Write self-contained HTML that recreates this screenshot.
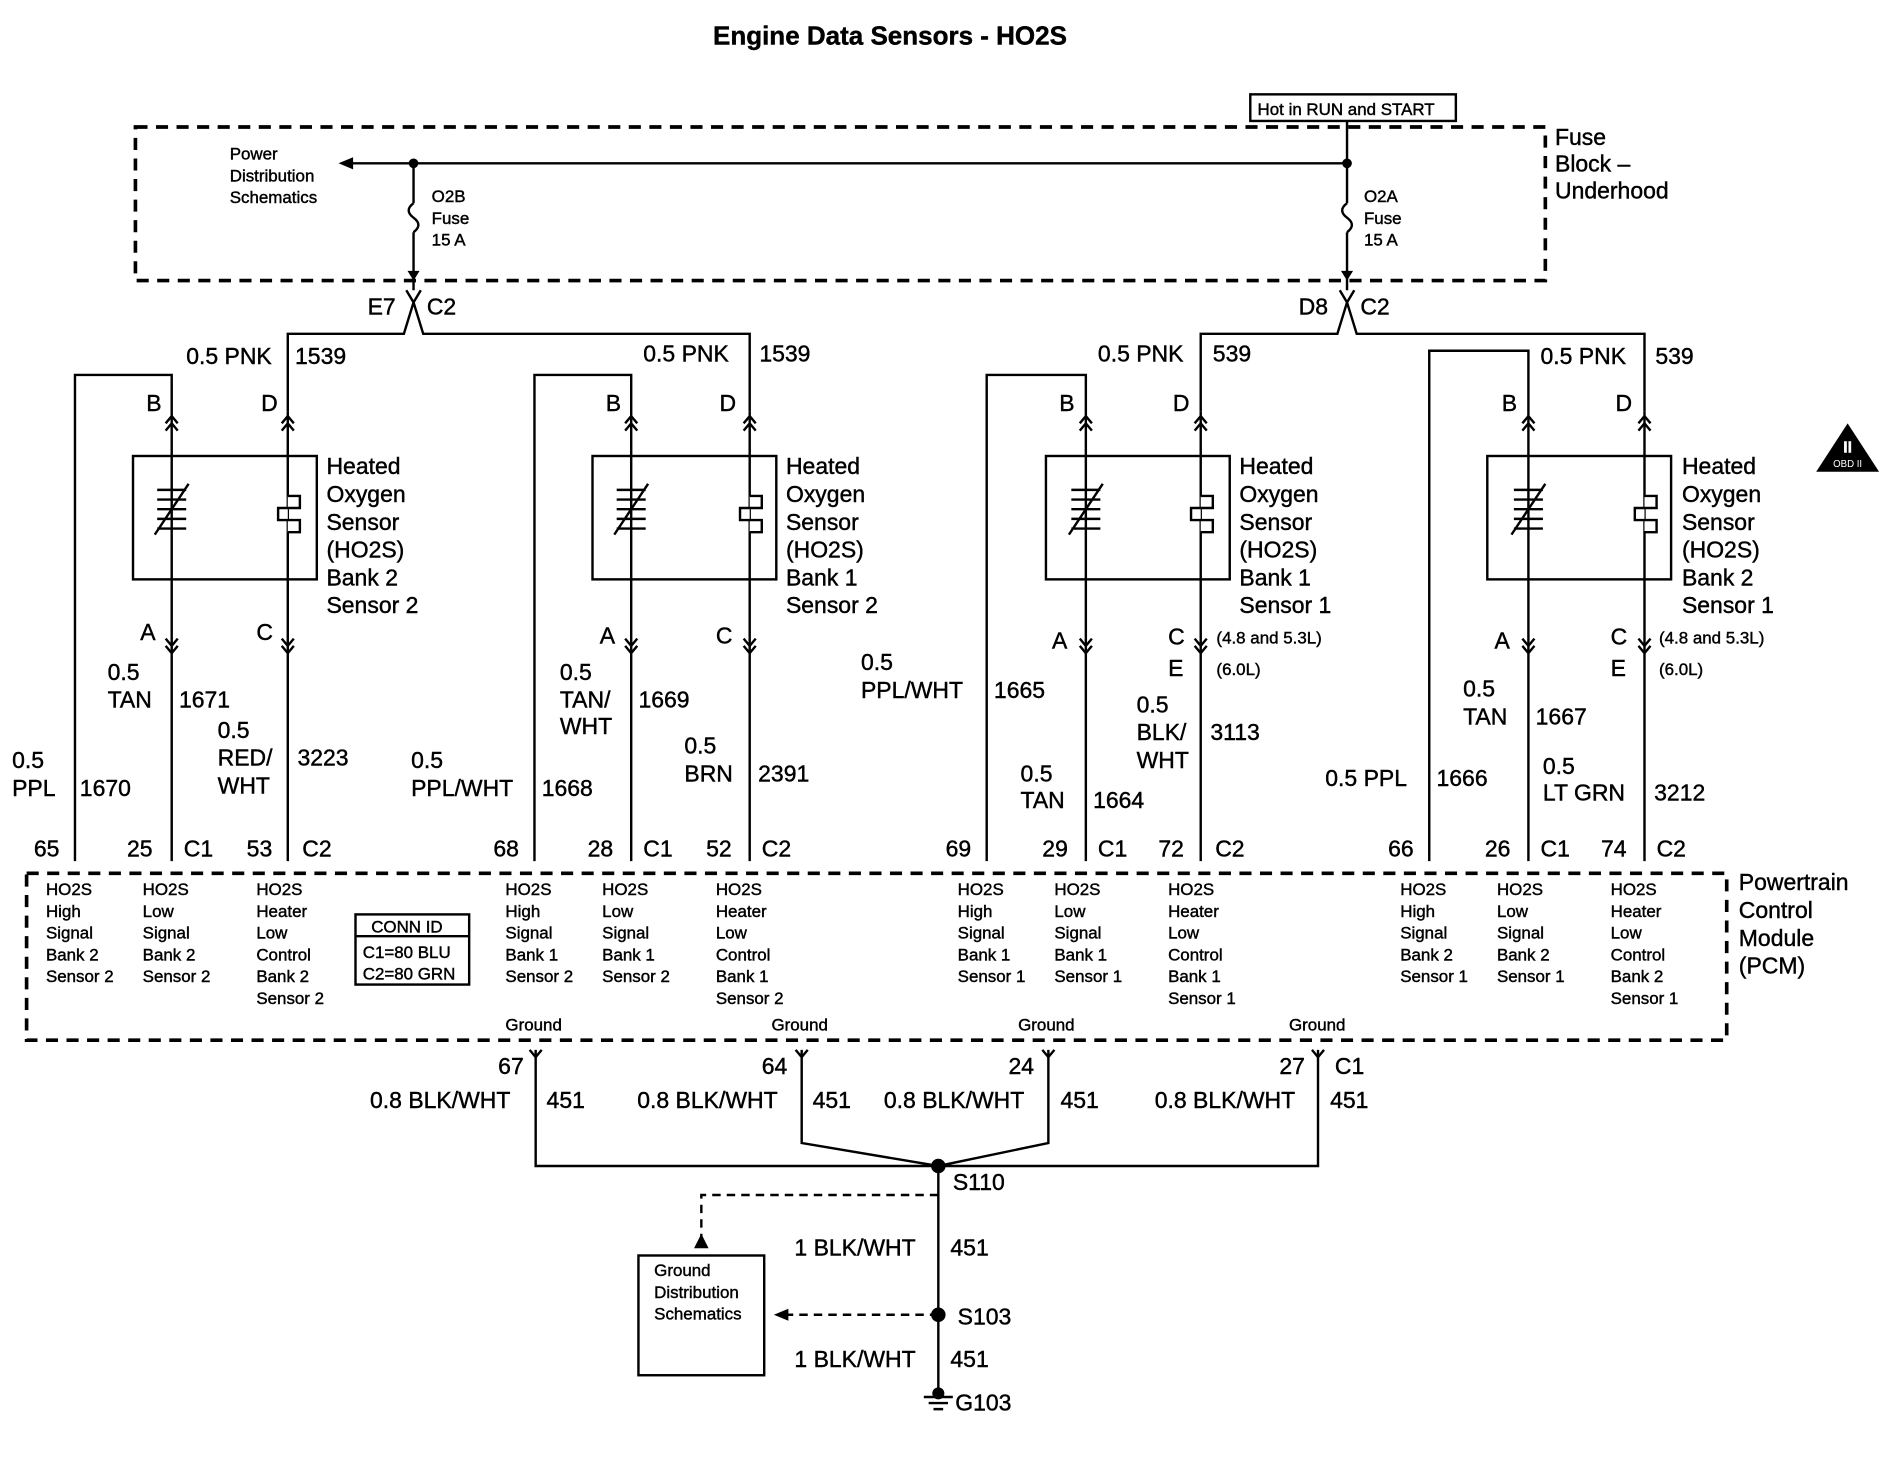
<!DOCTYPE html>
<html><head><meta charset="utf-8"><style>
html,body{margin:0;padding:0;background:#fff;}
svg{display:block;}
text{font-family:"Liberation Sans",Arial,sans-serif;fill:#000;stroke:#000;stroke-width:0.35px;}
.w{font-size:19px;}
.s{font-size:14px;}
</style></head><body>
<svg width="1896" height="1472" viewBox="0 0 1568 1217" preserveAspectRatio="none" xmlns="http://www.w3.org/2000/svg">
<g fill="none" stroke="#000" stroke-width="2">
<rect x="112" y="105" width="1166" height="127" stroke-width="3" stroke-dasharray="10,7"/>
<rect x="1034" y="78" width="170" height="22" stroke-width="2"/>
<path d="M288 135 H1114 M1114 100 V168 M342 135 V168"/>
<path d="M342 168 q-8 6 0 12 q8 6 0 12 M1114 168 q-8 6 0 12 q8 6 0 12"/>
<path d="M342 192 V240 M1114 192 V240"/>
<path d="M336 240 L342 250 L348 240 M342 250 L334 276 H238 V340 M342 250 L350 276 H620 V340"/>
<path d="M1108 240 L1114 250 L1120 240 M1114 250 L1106 276 H993 V340 M1114 250 L1122 276 H1360 V340"/>
<rect x="110" y="377" width="152" height="102"/>
<rect x="490" y="377" width="152" height="102"/>
<rect x="865" y="377" width="152" height="102"/>
<rect x="1230" y="377" width="152" height="102"/>
<path d="M142 340 V310 H62 V712 M142 340 V712 M238 340 V712"/>
<path d="M522 340 V310 H442 V712 M522 340 V712 M620 340 V712"/>
<path d="M898 340 V310 H816 V712 M898 340 V712 M993 340 V712"/>
<path d="M1264 340 V290 H1182 V712 M1264 340 V712 M1360 340 V712"/>
<path d="M137 350 L142 344 L147 350 M137 356 L142 350 L147 356 M233 350 L238 344 L243 350 M233 356 L238 350 L243 356"/>
<path d="M517 350 L522 344 L527 350 M517 356 L522 350 L527 356 M615 350 L620 344 L625 350 M615 356 L620 350 L625 356"/>
<path d="M893 350 L898 344 L903 350 M893 356 L898 350 L903 356 M988 350 L993 344 L998 350 M988 356 L993 350 L998 356"/>
<path d="M1259 350 L1264 344 L1269 350 M1259 356 L1264 350 L1269 356 M1355 350 L1360 344 L1365 350 M1355 356 L1360 350 L1365 356"/>
<path d="M137 534 L142 540 L147 534 M137 528 L142 534 L147 528 M233 534 L238 540 L243 534 M233 528 L238 534 L243 528"/>
<path d="M517 534 L522 540 L527 534 M517 528 L522 534 L527 528 M615 534 L620 540 L625 534 M615 528 L620 534 L625 528"/>
<path d="M893 534 L898 540 L903 534 M893 528 L898 534 L903 528 M988 534 L993 540 L998 534 M988 528 L993 534 L998 528"/>
<path d="M1259 534 L1264 540 L1269 534 M1259 528 L1264 534 L1269 528 M1355 534 L1360 540 L1365 534 M1355 528 L1360 534 L1365 528"/>
<path d="M130 405 H154 M130 413 H154 M130 421 H154 M130 429 H154 M130 437 H154 M128 442 L156 400"/>
<path transform="translate(380,0)" d="M130 405 H154 M130 413 H154 M130 421 H154 M130 429 H154 M130 437 H154 M128 442 L156 400"/>
<path transform="translate(756,0)" d="M130 405 H154 M130 413 H154 M130 421 H154 M130 429 H154 M130 437 H154 M128 442 L156 400"/>
<path transform="translate(1122,0)" d="M130 405 H154 M130 413 H154 M130 421 H154 M130 429 H154 M130 437 H154 M128 442 L156 400"/>
<path d="M238 410 h10 v10 h-18 v10 h18 v10 h-10" fill="#fff"/>
<path d="M620 410 h10 v10 h-18 v10 h18 v10 h-10" fill="#fff"/>
<path d="M993 410 h10 v10 h-18 v10 h18 v10 h-10" fill="#fff"/>
<path d="M1360 410 h10 v10 h-18 v10 h18 v10 h-10" fill="#fff"/>
<rect x="22" y="722" width="1406" height="138" stroke-width="3" stroke-dasharray="10,7"/>
<rect x="294" y="756" width="94" height="58"/>
<path d="M294 774 H388"/>
<path d="M443 868 V964 H1090 V868 M663 868 V945 L776 964 L867 945 V868 M776 964 V1150"/>
<path d="M438 868 L443 874 L448 868 M658 868 L663 874 L668 868 M862 868 L867 874 L872 868 M1085 868 L1090 874 L1095 868"/>
<path d="M776 988 H580 V1030 M776 1087 H650" stroke-dasharray="7,5"/>
<rect x="528" y="1038" width="104" height="99"/>
<path d="M764 1155 H788 M768 1160 H784 M772 1165 H780"/>
</g>
<g fill="#000">
<path d="M280 135 L292 130 L292 140 Z"/>
<path d="M337 224 L347 224 L342 232 Z M1109 224 L1119 224 L1114 232 Z"/>
<circle cx="342" cy="135" r="4"/><circle cx="1114" cy="135" r="4"/>
<circle cx="776" cy="964" r="6"/><circle cx="776" cy="1087" r="6"/><circle cx="776" cy="1152" r="5"/>
<path d="M574 1032 L586 1032 L580 1020 Z"/>
<path d="M640 1087 L652 1082 L652 1092 Z"/>
<path d="M1528 350 L1554 390 L1502 390 Z"/>
</g>
<text x="1528" y="374" font-size="13" text-anchor="middle" style="fill:#fff;stroke:#fff;font-weight:bold">II</text>
<text x="1528" y="386" font-size="8" text-anchor="middle" style="fill:#fff;stroke:none">OBD II</text>

<text x="736" y="37" font-size="21.5" font-weight="bold" text-anchor="middle">Engine Data Sensors - HO2S</text>
<text x="1040" y="95" class="s">Hot in RUN and START</text>
<text class="s"><tspan x="190" y="132">Power</tspan><tspan x="190" y="150">Distribution</tspan><tspan x="190" y="168">Schematics</tspan></text>
<text class="s"><tspan x="357" y="167">O2B</tspan><tspan x="357" y="185">Fuse</tspan><tspan x="357" y="203">15 A</tspan></text>
<text class="s"><tspan x="1128" y="167">O2A</tspan><tspan x="1128" y="185">Fuse</tspan><tspan x="1128" y="203">15 A</tspan></text>
<text class="w"><tspan x="1286" y="120">Fuse</tspan><tspan x="1286" y="142">Block –</tspan><tspan x="1286" y="164">Underhood</tspan></text>
<text class="w" x="304" y="260">E7</text><text class="w" x="353" y="260">C2</text>
<text class="w" x="1074" y="260">D8</text><text class="w" x="1125" y="260">C2</text>

<text class="w"><tspan x="270" y="392">Heated</tspan><tspan x="270" y="415">Oxygen</tspan><tspan x="270" y="438">Sensor</tspan><tspan x="270" y="461">(HO2S)</tspan><tspan x="270" y="484">Bank 2</tspan><tspan x="270" y="507">Sensor 2</tspan></text>
<text class="w"><tspan x="650" y="392">Heated</tspan><tspan x="650" y="415">Oxygen</tspan><tspan x="650" y="438">Sensor</tspan><tspan x="650" y="461">(HO2S)</tspan><tspan x="650" y="484">Bank 1</tspan><tspan x="650" y="507">Sensor 2</tspan></text>
<text class="w"><tspan x="1025" y="392">Heated</tspan><tspan x="1025" y="415">Oxygen</tspan><tspan x="1025" y="438">Sensor</tspan><tspan x="1025" y="461">(HO2S)</tspan><tspan x="1025" y="484">Bank 1</tspan><tspan x="1025" y="507">Sensor 1</tspan></text>
<text class="w"><tspan x="1391" y="392">Heated</tspan><tspan x="1391" y="415">Oxygen</tspan><tspan x="1391" y="438">Sensor</tspan><tspan x="1391" y="461">(HO2S)</tspan><tspan x="1391" y="484">Bank 2</tspan><tspan x="1391" y="507">Sensor 1</tspan></text>

<g class="w">
<text x="154" y="301">0.5 PNK</text><text x="244" y="301">1539</text>
<text x="121" y="340">B</text><text x="216" y="340">D</text><text x="116" y="529">A</text><text x="212" y="529">C</text>
<text x="89" y="562">0.5</text><text x="89" y="585">TAN</text><text x="148" y="585">1671</text>
<text x="180" y="610">0.5</text><text x="180" y="633">RED/</text><text x="180" y="656">WHT</text><text x="246" y="633">3223</text>
<text x="10" y="635">0.5</text><text x="10" y="658">PPL</text><text x="66" y="658">1670</text>
<text x="28" y="708">65</text><text x="105" y="708">25</text><text x="152" y="708">C1</text><text x="204" y="708">53</text><text x="250" y="708">C2</text>
</g>
<g class="w">
<text x="532" y="299">0.5 PNK</text><text x="628" y="299">1539</text>
<text x="501" y="340">B</text><text x="595" y="340">D</text><text x="496" y="532">A</text><text x="592" y="532">C</text>
<text x="463" y="562">0.5</text><text x="463" y="585">TAN/</text><text x="463" y="607">WHT</text><text x="528" y="585">1669</text>
<text x="566" y="623">0.5</text><text x="566" y="646">BRN</text><text x="627" y="646">2391</text>
<text x="340" y="635">0.5</text><text x="340" y="658">PPL/WHT</text><text x="448" y="658">1668</text>
<text x="408" y="708">68</text><text x="486" y="708">28</text><text x="532" y="708">C1</text><text x="584" y="708">52</text><text x="630" y="708">C2</text>
</g>
<g class="w">
<text x="908" y="299">0.5 PNK</text><text x="1003" y="299">539</text>
<text x="876" y="340">B</text><text x="970" y="340">D</text><text x="870" y="536">A</text><text x="966" y="533">C</text><text x="966" y="559">E</text>
<text x="712" y="554">0.5</text><text x="712" y="577">PPL/WHT</text><text x="822" y="577">1665</text>
<text x="844" y="646">0.5</text><text x="844" y="668">TAN</text><text x="904" y="668">1664</text>
<text x="940" y="589">0.5</text><text x="940" y="612">BLK/</text><text x="940" y="635">WHT</text><text x="1001" y="612">3113</text>
<text x="782" y="708">69</text><text x="862" y="708">29</text><text x="908" y="708">C1</text><text x="958" y="708">72</text><text x="1005" y="708">C2</text>
</g>
<text class="s" x="1006" y="532">(4.8 and 5.3L)</text><text class="s" x="1006" y="558">(6.0L)</text>
<g class="w">
<text x="1274" y="301">0.5 PNK</text><text x="1369" y="301">539</text>
<text x="1242" y="340">B</text><text x="1336" y="340">D</text><text x="1236" y="536">A</text><text x="1332" y="533">C</text><text x="1332" y="559">E</text>
<text x="1210" y="576">0.5</text><text x="1210" y="599">TAN</text><text x="1270" y="599">1667</text>
<text x="1276" y="640">0.5</text><text x="1276" y="662">LT GRN</text><text x="1368" y="662">3212</text>
<text x="1096" y="650">0.5 PPL</text><text x="1188" y="650">1666</text>
<text x="1148" y="708">66</text><text x="1228" y="708">26</text><text x="1274" y="708">C1</text><text x="1324" y="708">74</text><text x="1370" y="708">C2</text>
</g>
<text class="s" x="1372" y="532">(4.8 and 5.3L)</text><text class="s" x="1372" y="558">(6.0L)</text>

<g class="s">
<text><tspan x="38" y="740">HO2S</tspan><tspan x="38" y="758">High</tspan><tspan x="38" y="776">Signal</tspan><tspan x="38" y="794">Bank 2</tspan><tspan x="38" y="812">Sensor 2</tspan></text>
<text><tspan x="118" y="740">HO2S</tspan><tspan x="118" y="758">Low</tspan><tspan x="118" y="776">Signal</tspan><tspan x="118" y="794">Bank 2</tspan><tspan x="118" y="812">Sensor 2</tspan></text>
<text><tspan x="212" y="740">HO2S</tspan><tspan x="212" y="758">Heater</tspan><tspan x="212" y="776">Low</tspan><tspan x="212" y="794">Control</tspan><tspan x="212" y="812">Bank 2</tspan><tspan x="212" y="830">Sensor 2</tspan></text>
<text><tspan x="418" y="740">HO2S</tspan><tspan x="418" y="758">High</tspan><tspan x="418" y="776">Signal</tspan><tspan x="418" y="794">Bank 1</tspan><tspan x="418" y="812">Sensor 2</tspan></text>
<text><tspan x="498" y="740">HO2S</tspan><tspan x="498" y="758">Low</tspan><tspan x="498" y="776">Signal</tspan><tspan x="498" y="794">Bank 1</tspan><tspan x="498" y="812">Sensor 2</tspan></text>
<text><tspan x="592" y="740">HO2S</tspan><tspan x="592" y="758">Heater</tspan><tspan x="592" y="776">Low</tspan><tspan x="592" y="794">Control</tspan><tspan x="592" y="812">Bank 1</tspan><tspan x="592" y="830">Sensor 2</tspan></text>
<text><tspan x="792" y="740">HO2S</tspan><tspan x="792" y="758">High</tspan><tspan x="792" y="776">Signal</tspan><tspan x="792" y="794">Bank 1</tspan><tspan x="792" y="812">Sensor 1</tspan></text>
<text><tspan x="872" y="740">HO2S</tspan><tspan x="872" y="758">Low</tspan><tspan x="872" y="776">Signal</tspan><tspan x="872" y="794">Bank 1</tspan><tspan x="872" y="812">Sensor 1</tspan></text>
<text><tspan x="966" y="740">HO2S</tspan><tspan x="966" y="758">Heater</tspan><tspan x="966" y="776">Low</tspan><tspan x="966" y="794">Control</tspan><tspan x="966" y="812">Bank 1</tspan><tspan x="966" y="830">Sensor 1</tspan></text>
<text><tspan x="1158" y="740">HO2S</tspan><tspan x="1158" y="758">High</tspan><tspan x="1158" y="776">Signal</tspan><tspan x="1158" y="794">Bank 2</tspan><tspan x="1158" y="812">Sensor 1</tspan></text>
<text><tspan x="1238" y="740">HO2S</tspan><tspan x="1238" y="758">Low</tspan><tspan x="1238" y="776">Signal</tspan><tspan x="1238" y="794">Bank 2</tspan><tspan x="1238" y="812">Sensor 1</tspan></text>
<text><tspan x="1332" y="740">HO2S</tspan><tspan x="1332" y="758">Heater</tspan><tspan x="1332" y="776">Low</tspan><tspan x="1332" y="794">Control</tspan><tspan x="1332" y="812">Bank 2</tspan><tspan x="1332" y="830">Sensor 1</tspan></text>
<text x="307" y="771">CONN ID</text><text x="300" y="792">C1=80 BLU</text><text x="300" y="810">C2=80 GRN</text>
<text x="418" y="852">Ground</text><text x="638" y="852">Ground</text><text x="842" y="852">Ground</text><text x="1066" y="852">Ground</text>
<text><tspan x="541" y="1055">Ground</tspan><tspan x="541" y="1073">Distribution</tspan><tspan x="541" y="1091">Schematics</tspan></text>
</g>
<text class="w"><tspan x="1438" y="736">Powertrain</tspan><tspan x="1438" y="759">Control</tspan><tspan x="1438" y="782">Module</tspan><tspan x="1438" y="805">(PCM)</tspan></text>

<g class="w">
<text x="412" y="888">67</text><text x="630" y="888">64</text><text x="834" y="888">24</text><text x="1058" y="888">27</text><text x="1104" y="888">C1</text>
<text x="306" y="916">0.8 BLK/WHT</text><text x="452" y="916">451</text>
<text x="527" y="916">0.8 BLK/WHT</text><text x="672" y="916">451</text>
<text x="731" y="916">0.8 BLK/WHT</text><text x="877" y="916">451</text>
<text x="955" y="916">0.8 BLK/WHT</text><text x="1100" y="916">451</text>
<text x="788" y="984">S110</text>
<text x="657" y="1038">1 BLK/WHT</text><text x="786" y="1038">451</text>
<text x="792" y="1095">S103</text>
<text x="657" y="1130">1 BLK/WHT</text><text x="786" y="1130">451</text>
<text x="790" y="1166">G103</text>
</g>
</svg>
</body></html>
